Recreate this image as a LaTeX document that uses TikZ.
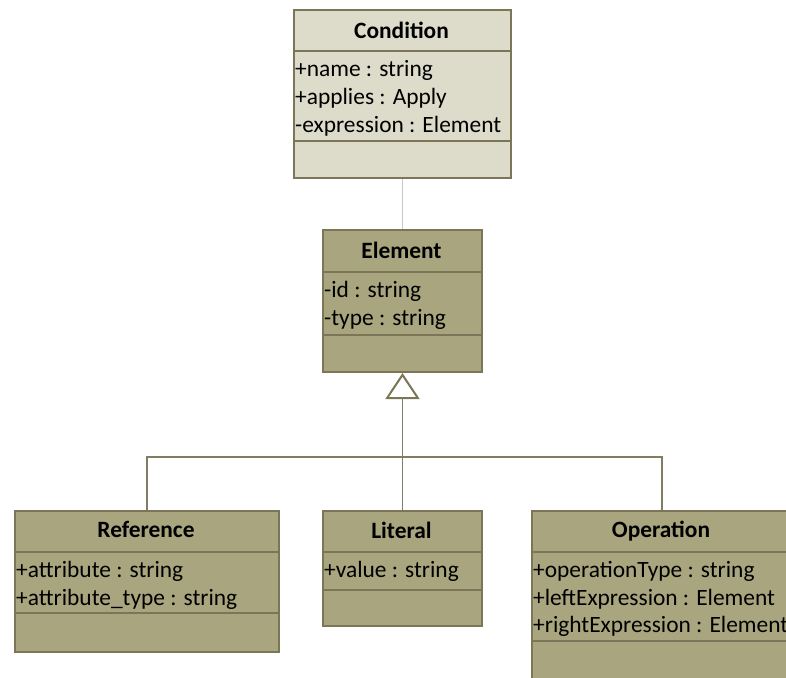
\documentclass[tikz,border=0pt]{standalone}
\usepackage{fontspec}
\setmainfont{Carlito}
\usetikzlibrary{arrows.meta}
\definecolor{condfill}{RGB}{221,220,203}
\definecolor{clsfill}{RGB}{169,165,126}
\definecolor{umlborder}{RGB}{122,118,87}
\definecolor{genline}{RGB}{130,125,98}
\definecolor{assocline}{RGB}{200,200,200}
\begin{document}
\begin{tikzpicture}[x=1pt,y=-1pt,
  classbox/.style={draw=umlborder, line width=2pt, anchor=north west, inner sep=0pt, fill=clsfill},
  sepline/.style={draw=umlborder, line width=1.6pt},
  title/.style={font=\fontsize{23.4}{28}\selectfont\bfseries, anchor=base, inner sep=0pt},
  attr/.style={font=\fontsize{23.4}{28}\selectfont, anchor=base west, inner sep=0pt},
  genconn/.style={draw=genline, line width=1.5pt},
  assocconn/.style={draw=assocline, line width=1.5pt}]
\useasboundingbox (0,0) rectangle (786,677);
\clip (0,0) rectangle (786,677);

% Condition
\node[classbox, fill=condfill, minimum width=217pt, minimum height=168pt] (cond) at (293,9) {};
\draw[sepline] ([yshift=-42pt]cond.north west) -- ([yshift=-42pt]cond.north east);
\draw[sepline] ([yshift=-132pt]cond.north west) -- ([yshift=-132pt]cond.north east);
\node[title] (condT) at (401.5,38) {Condition};
\node[attr] (condA1) at (295,76) {+name : string};
\node[attr] (condA2) at (295,104) {+applies : Apply};
\node[attr] (condA3) at (295,132) {-expression : Element};

% Element
\node[classbox, minimum width=159pt, minimum height=142pt] (elem) at (322,229) {};
\draw[sepline] ([yshift=-43pt]elem.north west) -- ([yshift=-43pt]elem.north east);
\draw[sepline] ([yshift=-106pt]elem.north west) -- ([yshift=-106pt]elem.north east);
\node[title] (elemT) at (401.5,258) {Element};
\node[attr] (elemA1) at (324,297) {-id : string};
\node[attr] (elemA2) at (324,325) {-type : string};

% Reference
\node[classbox, minimum width=264pt, minimum height=141pt] (ref) at (14,510) {};
\draw[sepline] ([yshift=-42pt]ref.north west) -- ([yshift=-42pt]ref.north east);
\draw[sepline] ([yshift=-103pt]ref.north west) -- ([yshift=-103pt]ref.north east);
\node[title] (refT) at (146,537) {Reference};
\node[attr] (refA1) at (16,577) {+attribute : string};
\node[attr] (refA2) at (16,605) {+attribute\_type : string};

% Literal
\node[classbox, minimum width=159pt, minimum height=115pt] (lit) at (322,510) {};
\draw[sepline] ([yshift=-42pt]lit.north west) -- ([yshift=-42pt]lit.north east);
\draw[sepline] ([yshift=-80pt]lit.north west) -- ([yshift=-80pt]lit.north east);
\node[title] (litT) at (401.5,538) {Literal};
\node[attr] (litA1) at (324,577) {+value : string};

% Operation
\node[classbox, minimum width=260pt, minimum height=169pt] (op) at (531,510) {};
\draw[sepline] ([yshift=-42pt]op.north west) -- ([yshift=-42pt]op.north east);
\draw[sepline] ([yshift=-131pt]op.north west) -- ([yshift=-131pt]op.north east);
\node[title] (opT) at (661,537) {Operation};
\node[attr] (opA1) at (533,577) {+operationType : string};
\node[attr] (opA2) at (533,605) {+leftExpression : Element};
\node[attr] (opA3) at (533,632) {+rightExpression : Element};

% Connectors
\draw[assocconn] (cond.south) -- (elem.north);
\coordinate (bus) at (401.5,457);
\draw[genconn] (ref.north) -- (ref.north |- bus) -- (op.north |- bus) -- (op.north);
\draw[genconn, -{Triangle[length=26pt, width=34pt, fill=white, line width=2pt, color=umlborder, fill=white]}] (lit.north) -- (elem.south);
\end{tikzpicture}
\end{document}
